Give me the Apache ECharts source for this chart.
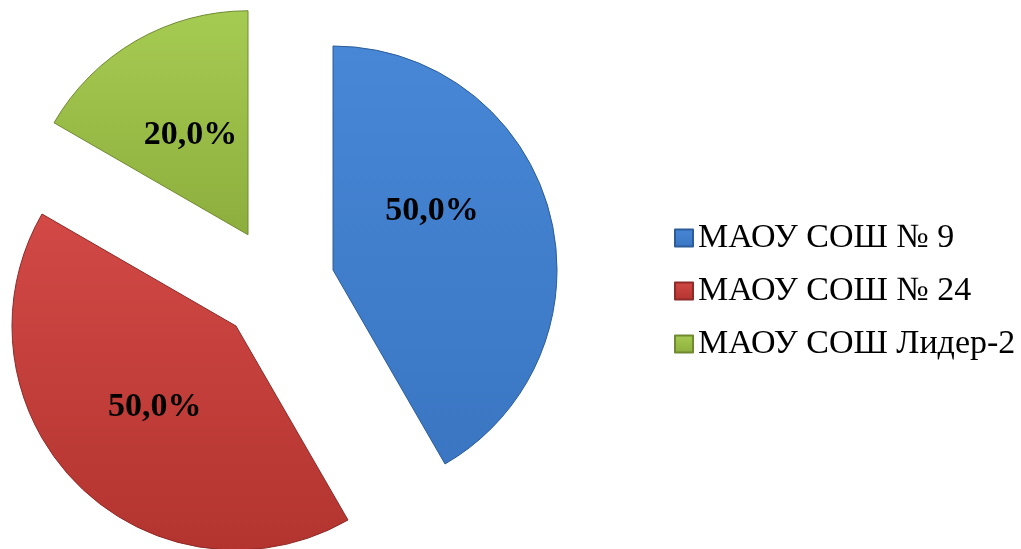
<!DOCTYPE html>
<html>
<head>
<meta charset="utf-8">
<script src="https://cdn.jsdelivr.net/npm/echarts@6/dist/echarts.min.js"></script>
<style>html,body{margin:0;padding:0;background:#fff;}#c{width:1021px;height:549px;}</style>
</head>
<body>
<div id="c"></div>
<script>
const categories = ['МАОУ СОШ № 9', 'МАОУ СОШ № 24', 'МАОУ СОШ Лидер-2'];
const values = [50, 50, 20];
const colorTop = ['#4787d6', '#d24946', '#a6cb52'];
const colorBottom = ['#3a76c2', '#b3342f', '#8dae3d'];
const borderColors = ['#2c5d9a', '#8e2a27', '#6f8a30'];

function grad(i) {
  return new echarts.graphic.LinearGradient(0, 0, 0, 1, [
    { offset: 0, color: colorTop[i] },
    { offset: 1, color: colorBottom[i] }
  ]);
}

const chart = echarts.init(document.getElementById('c'), null, { renderer: 'canvas' });
chart.setOption({
  animation: false,
  backgroundColor: '#ffffff',
  legend: {
    orient: 'vertical',
    left: 669,
    top: 216,
    icon: 'rect',
    itemWidth: 18,
    itemHeight: 17,
    itemGap: 19,
    selectedMode: false,
    data: categories,
    textStyle: { fontFamily: 'Liberation Serif', fontSize: 34, lineHeight: 34, color: '#000' }
  },
  series: [{
    type: 'pie',
    center: [277, 285],
    radius: [0, 224],
    startAngle: 90,
    clockwise: true,
    selectedMode: 'multiple',
    selectedOffset: 58,
    avoidLabelOverlap: false,
    emphasis: { disabled: true },
    itemStyle: { borderWidth: 1 },
    label: {
      show: true,
      position: 'inside',
      fontFamily: 'Liberation Serif',
      fontWeight: 'bold',
      fontSize: 34,
      color: '#000',
      formatter: p => p.value.toFixed(1).replace('.', ',') + '%'
    },
    labelLine: { show: false },
    labelLayout: function (params) {
      if (params.dataIndex === 0) return { dx: -12, dy: -29 };
      return {};
    },
    data: categories.map((name, i) => ({
      name: name,
      value: values[i],
      selected: true,
      itemStyle: { color: grad(i), borderColor: borderColors[i], borderWidth: 1 }
    }))
  }]
});
</script>
</body>
</html>
